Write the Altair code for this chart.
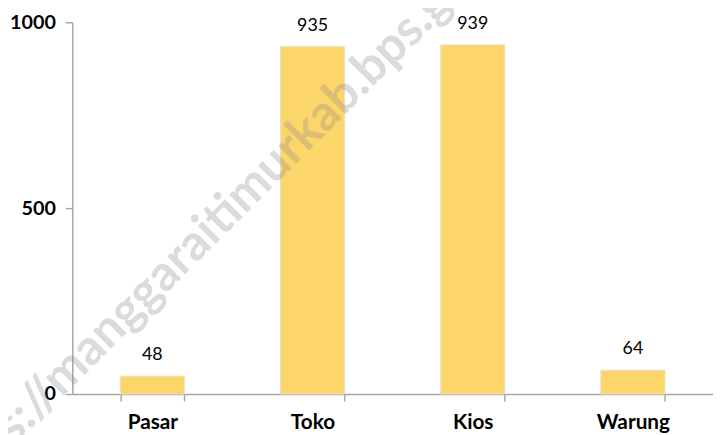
import altair as alt
import pandas as pd

categories = ["Pasar", "Toko", "Kios", "Warung"]
values = [48, 935, 939, 64]
y_ticks = [0, 500, 1000]
watermark = "https://manggaraitimurkab.bps.go.id"

df = pd.DataFrame({"cat": categories, "val": values})

base = alt.Chart(df).encode(
    x=alt.X("cat:N", sort=categories, title=None,
            scale=alt.Scale(paddingInner=0.6, paddingOuter=0.3),
            axis=alt.Axis(labelAngle=0, labelFont="Lato", labelFontWeight="bold",
                          labelFontSize=21, labelColor="#000000", labelPadding=11,
                          tickBand="extent", tickSize=7, domainColor="#A6A6A6",
                          tickColor="#A6A6A6", domainWidth=1.5, tickWidth=1.5,
                          grid=False)),
)

bars = base.mark_bar(color="#FDD66A", stroke="#E6E0C8", strokeWidth=1).encode(
    y=alt.Y("val:Q", title=None,
            scale=alt.Scale(domain=[0, 1000]),
            axis=alt.Axis(values=y_ticks, grid=False, format="d", labelFont="Lato",
                          labelFontWeight="bold", labelFontSize=20,
                          labelColor="#000000", labelPadding=10, tickSize=7,
                          domainColor="#A6A6A6", tickColor="#A6A6A6",
                          domainWidth=1.5, tickWidth=1.5)),
)

labels = base.mark_text(font="Lato", fontSize=18, color="#000000",
                        baseline="alphabetic", dy=-16).encode(
    y="val:Q", text="val:Q")

wm = alt.Chart(pd.DataFrame({"t": [watermark]})).mark_text(
    font="Lato", fontWeight="bold", fontSize=50, color="#8A8A8A", opacity=0.3,
    angle=315, align="center", baseline="middle"
).encode(x=alt.value(149), y=alt.value(199), text="t:N")

chart = alt.layer(bars, labels, wm).properties(
    width=648, height=376,
    background="white",
    autosize=alt.AutoSizeParams(type="none"),
    padding={"left": 65, "top": 12, "right": 0, "bottom": 39}
).configure_view(stroke=None)

chart.save("out.html", embed_options={"renderer": "svg", "actions": False})
